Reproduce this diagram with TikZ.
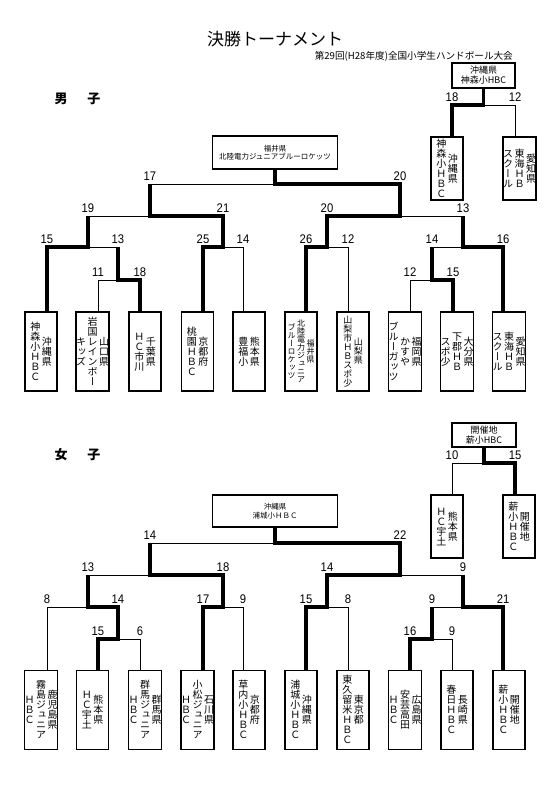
\documentclass[tikz,border=0pt]{standalone}
\usepackage{fontspec}
\setmainfont{Noto Sans CJK JP}
\newfontfamily\vfont{Noto Sans CJK JP}[RawFeature=+vert]
\newfontfamily\numfont{Liberation Sans}[FakeStretch=0.9]
\def\vcloop#1{\ifx#1\relax\else\hbox to 1em{\hss\raisebox{0pt}[0.88em][0.12em]{#1}\hss}\expandafter\vcloop\fi}
\newcommand\vcol[1]{$\vcenter{\offinterlineskip\vcloop#1\relax}$}
\newcommand\cg{\hspace{1.5bp}}
\begin{document}
\begin{tikzpicture}[x=1bp,y=-1bp,
  tbox/.style={draw,line width=1.3bp,minimum width=32bp,minimum height=79bp,inner sep=0pt,
    font={\vfont\fontsize{10bp}{10bp}\selectfont}},
  sbox/.style={tbox,minimum height=63bp},
  hbox/.style={draw,line width=1.3bp,inner sep=0pt,align=center},
  topfont/.style={font={\fontsize{9bp}{10bp}\selectfont}},
  chfont/.style={font={\fontsize{7.5bp}{8.5bp}\selectfont}},
  thn/.style={line width=0.9bp},
  thk/.style={line width=3.6bp,line join=miter},
  num/.style={anchor=south,inner sep=0pt,font={\numfont\fontsize{12.5bp}{12.5bp}\selectfont}}]
\useasboundingbox (0,0) rectangle (560,792);
\fill[white] (0,0) rectangle (560,792);

% titles
\node (title) at (275,39) {\fontsize{17bp}{17bp}\selectfont 決勝トーナメント};
\node[anchor=east,inner sep=0pt] (sub) at (513,56) {\fontsize{9.6bp}{9.6bp}\selectfont 第29回(H28年度)全国小学生ハンドボール大会};
\node (boys) at (77.5,99) {\fontsize{13bp}{13bp}\selectfont\bfseries 男\hspace{20bp}子};
\node (girls) at (77.5,455) {\fontsize{13bp}{13bp}\selectfont\bfseries 女\hspace{20bp}子};

% ================= BOYS =================
\node[hbox,topfont,minimum width=63bp,minimum height=25bp] (bt) at (483.5,75.5) {沖縄県\\神森小HBC};
\node[sbox] (bt3Lb) at (447,168.5) {\vcol{神森小ＨＢＣ}\cg\vcol{沖縄県}};
\node[sbox] (bt3Rb) at (519.5,168.5) {\vcol{スクール}\cg\vcol{東海ＨＢ}\cg\vcol{愛知県}};

\node[hbox,chfont,minimum width=125bp,minimum height=33bp] (bch) at (275,152.5) {福井県\\北陸電力ジュニアブルーロケッツ};

\node[tbox] (b1) at (41,351.5) {\vcol{神森小ＨＢＣ}\cg\vcol{沖縄県}};
\node[tbox] (b2) at (92.5,351.5) {\vcol{キッズ}\cg\vcol{岩国レインボー}\cg\vcol{山口県}};
\node[tbox] (b3) at (145,351.5) {\vcol{ＨＣ市川}\cg\vcol{千葉県}};
\node[tbox] (b4) at (197.5,351.5) {\vcol{桃園ＨＢＣ}\cg\vcol{京都府}};
\node[tbox] (b5) at (249,351.5) {\vcol{豊福小}\cg\vcol{熊本県}};
\node[tbox,font={\vfont\fontsize{8bp}{8bp}\selectfont}] (b6) at (301,351.5) {\vcol{ブルーロケッツ}\cg\vcol{北陸電力ジュニア}\cg\vcol{福井県}};
\node[tbox,font={\vfont\fontsize{9bp}{9bp}\selectfont}] (b7) at (353,351.5) {\vcol{山梨市ＨＢスポ少}\cg\vcol{山梨県}};
\node[tbox] (b8) at (405,351.5) {\vcol{ブルーガッツ}\cg\vcol{かすや}\cg\vcol{福岡県}};
\node[tbox] (b9) at (457,351.5) {\vcol{スポ少}\cg\vcol{下郡ＨＢ}\cg\vcol{大分県}};
\node[tbox] (b10) at (509,351.5) {\vcol{スクール}\cg\vcol{東海ＨＢ}\cg\vcol{愛知県}};

\coordinate (b1t) at (47,312);  \coordinate (b1c) at (47,247);
\coordinate (b2t) at (98,312);  \coordinate (b2c) at (98,280);
\coordinate (b3t) at (140,312); \coordinate (b3c) at (140,280);
\coordinate (b4t) at (203,312); \coordinate (b4c) at (203,247);
\coordinate (b5t) at (243,312); \coordinate (b5c) at (243,247);
\coordinate (b6t) at (306,312); \coordinate (b6c) at (306,247);
\coordinate (b7t) at (348,312); \coordinate (b7c) at (348,247);
\coordinate (b8t) at (410,312); \coordinate (b8c) at (410,280);
\coordinate (b9t) at (453,312); \coordinate (b9c) at (453,280);
\coordinate (b10t) at (503,312); \coordinate (b10c) at (503,247);
\coordinate (br1) at (118,280); \coordinate (br1c) at (118,247);
\coordinate (br2) at (432,280); \coordinate (br2c) at (432,247);
\coordinate (bq1) at (88,247);  \coordinate (bq1c) at (88,216);
\coordinate (bq2) at (223,247); \coordinate (bq2c) at (223,216);
\coordinate (bq3) at (327,247); \coordinate (bq3c) at (327,216);
\coordinate (bq4) at (463,247); \coordinate (bq4c) at (463,216);
\coordinate (bs1) at (150,216); \coordinate (bs1c) at (150,184);
\coordinate (bs2) at (400,216); \coordinate (bs2c) at (400,184);
\coordinate (bf) at (275,184);
\coordinate (bt3j) at (483.5,105);
\coordinate (bt3L) at (452,137); \coordinate (bt3Lc) at (452,105);
\coordinate (bt3R) at (515,137); \coordinate (bt3Rc) at (515,105);

% thin
\draw[thn] (b2t)--(b2c)--(br1);
\draw[thn] (br1c)--(bq1);
\draw[thn] (bq1c)--(bs1);
\draw[thn] (bs1c)--(bf);
\draw[thn] (b5t)--(b5c)--(bq2);
\draw[thn] (b7t)--(b7c)--(bq3);
\draw[thn] (b8t)--(b8c)--(br2);
\draw[thn] (br2c)--(bq4);
\draw[thn] (bq4c)--(bs2);
\draw[thn] (bt3R)--(bt3Rc)--(bt3j);
% thick
\draw[thk] (b3t)--(b3c)--(br1)--(br1c);
\draw[thk] (b1t)--(b1c)--(bq1)--(bq1c);
\draw[thk] (b4t)--(b4c)--(bq2)--(bq2c)--(bs1)--(bs1c);
\draw[thk] (b6t)--(b6c)--(bq3)--(bq3c)--(bs2)--(bs2c)--(bf)--(bch.south);
\draw[thk] (b9t)--(b9c)--(br2)--(br2c);
\draw[thk] (b10t)--(b10c)--(bq4)--(bq4c);
\draw[thk] (bt3L)--(bt3Lc)--(bt3j)--(bt.south);

% scores
\node[num] (sb1) at ([yshift=3bp]b1c) {15};
\node[num] (sb2) at ([yshift=3bp]br1c) {13};
\node[num] (sb3) at ([yshift=3bp]b4c) {25};
\node[num] (sb4) at ([yshift=3bp]b5c) {14};
\node[num] (sb5) at ([yshift=3bp]b6c) {26};
\node[num] (sb6) at ([yshift=3bp]b7c) {12};
\node[num] (sb7) at ([yshift=3bp]br2c) {14};
\node[num] (sb8) at ([yshift=3bp]b10c) {16};
\node[num] (sb9) at ([yshift=3bp]b2c) {11};
\node[num] (sb10) at ([yshift=3bp]b3c) {18};
\node[num] (sb11) at ([yshift=3bp]b8c) {12};
\node[num] (sb12) at ([yshift=3bp]b9c) {15};
\node[num] (sb13) at ([yshift=3bp]bq1c) {19};
\node[num] (sb14) at ([yshift=3bp]bq2c) {21};
\node[num] (sb15) at ([yshift=3bp]bq3c) {20};
\node[num] (sb16) at ([yshift=3bp]bq4c) {13};
\node[num] (sb17) at ([yshift=3bp]bs1c) {17};
\node[num] (sb18) at ([yshift=3bp]bs2c) {20};
\node[num] (sb19) at ([yshift=3bp]bt3Lc) {18};
\node[num] (sb20) at ([yshift=3bp]bt3Rc) {12};

% ================= GIRLS =================
\node[hbox,topfont,minimum width=64bp,minimum height=24bp] (wt) at (484,435) {開催地\\薪小HBC};
\node[sbox] (wt3Lb) at (447,526.5) {\vcol{ＨＣ宇土}\cg\vcol{熊本県}};
\node[sbox] (wt3Rb) at (519,526.5) {\vcol{薪小ＨＢＣ}\cg\vcol{開催地}};

\node[hbox,chfont,minimum width=125bp,minimum height=32bp] (wch) at (275,511) {沖縄県\\浦城小ＨＢＣ};

\node[tbox] (w1) at (41,710) {\vcol{ＨＢＣ}\cg\vcol{霧島ジュニア}\cg\vcol{鹿児島県}};
\node[tbox] (w2) at (92.5,710) {\vcol{ＨＣ宇土}\cg\vcol{熊本県}};
\node[tbox] (w3) at (145,710) {\vcol{ＨＢＣ}\cg\vcol{群馬ジュニア}\cg\vcol{群馬県}};
\node[tbox] (w4) at (197.5,710) {\vcol{ＨＢＣ}\cg\vcol{小松ジュニア}\cg\vcol{石川県}};
\node[tbox] (w5) at (249,710) {\vcol{草内小ＨＢＣ}\cg\vcol{京都府}};
\node[tbox] (w6) at (301,710) {\vcol{浦城小ＨＢＣ}\cg\vcol{沖縄県}};
\node[tbox] (w7) at (353,710) {\vcol{東久留米ＨＢＣ}\cg\vcol{東京都}};
\node[tbox] (w8) at (405,710) {\vcol{ＨＢＣ}\cg\vcol{安芸高田}\cg\vcol{広島県}};
\node[tbox] (w9) at (457,710) {\vcol{春日ＨＢＣ}\cg\vcol{長崎県}};
\node[tbox] (w10) at (509,710) {\vcol{薪小ＨＢＣ}\cg\vcol{開催地}};

\coordinate (w1t) at (47,670.5);  \coordinate (w1c) at (47,607);
\coordinate (w2t) at (98,670.5);  \coordinate (w2c) at (98,639);
\coordinate (w3t) at (140,670.5); \coordinate (w3c) at (140,639);
\coordinate (w4t) at (203,670.5); \coordinate (w4c) at (203,607);
\coordinate (w5t) at (243,670.5); \coordinate (w5c) at (243,607);
\coordinate (w6t) at (306,670.5); \coordinate (w6c) at (306,607);
\coordinate (w7t) at (348,670.5); \coordinate (w7c) at (348,607);
\coordinate (w8t) at (410,670.5); \coordinate (w8c) at (410,639);
\coordinate (w9t) at (452,670.5); \coordinate (w9c) at (452,639);
\coordinate (w10t) at (503,670.5); \coordinate (w10c) at (503,607);
\coordinate (wr1) at (118,639); \coordinate (wr1c) at (118,607);
\coordinate (wr2) at (432,639); \coordinate (wr2c) at (432,607);
\coordinate (wq1) at (88,607);  \coordinate (wq1c) at (88,575);
\coordinate (wq2) at (223,607); \coordinate (wq2c) at (223,575);
\coordinate (wq3) at (327,607); \coordinate (wq3c) at (327,575);
\coordinate (wq4) at (463,607); \coordinate (wq4c) at (463,575);
\coordinate (ws1) at (150,575); \coordinate (ws1c) at (150,543);
\coordinate (ws2) at (400,575); \coordinate (ws2c) at (400,543);
\coordinate (wf) at (275,543);
\coordinate (wt3j) at (484,463);
\coordinate (wt3L) at (452,495); \coordinate (wt3Lc) at (452,463);
\coordinate (wt3R) at (515,495); \coordinate (wt3Rc) at (515,463);

% thin
\draw[thn] (w1t)--(w1c)--(wq1);
\draw[thn] (wq1c)--(ws1);
\draw[thn] (w3t)--(w3c)--(wr1);
\draw[thn] (ws1c)--(wf);
\draw[thn] (w5t)--(w5c)--(wq2);
\draw[thn] (w7t)--(w7c)--(wq3);
\draw[thn] (wr2c)--(wq4);
\draw[thn] (w9t)--(w9c)--(wr2);
\draw[thn] (wq4c)--(ws2);
\draw[thn] (wt3L)--(wt3Lc)--(wt3j);
% thick
\draw[thk] (w2t)--(w2c)--(wr1)--(wr1c)--(wq1)--(wq1c);
\draw[thk] (w4t)--(w4c)--(wq2)--(wq2c)--(ws1)--(ws1c);
\draw[thk] (w6t)--(w6c)--(wq3)--(wq3c)--(ws2)--(ws2c)--(wf)--(wch.south);
\draw[thk] (w8t)--(w8c)--(wr2)--(wr2c);
\draw[thk] (w10t)--(w10c)--(wq4)--(wq4c);
\draw[thk] (wt3R)--(wt3Rc)--(wt3j)--(wt.south);

% scores
\node[num] (sw1) at ([yshift=3bp]w1c) {8};
\node[num] (sw2) at ([yshift=3bp]wr1c) {14};
\node[num] (sw3) at ([yshift=3bp]w4c) {17};
\node[num] (sw4) at ([yshift=3bp]w5c) {9};
\node[num] (sw5) at ([yshift=3bp]w6c) {15};
\node[num] (sw6) at ([yshift=3bp]w7c) {8};
\node[num] (sw7) at ([yshift=3bp]wr2c) {9};
\node[num] (sw8) at ([yshift=3bp]w10c) {21};
\node[num] (sw9) at ([yshift=3bp]w2c) {15};
\node[num] (sw10) at ([yshift=3bp]w3c) {6};
\node[num] (sw11) at ([yshift=3bp]w8c) {16};
\node[num] (sw12) at ([yshift=3bp]w9c) {9};
\node[num] (sw13) at ([yshift=3bp]wq1c) {13};
\node[num] (sw14) at ([yshift=3bp]wq2c) {18};
\node[num] (sw15) at ([yshift=3bp]wq3c) {14};
\node[num] (sw16) at ([yshift=3bp]wq4c) {9};
\node[num] (sw17) at ([yshift=3bp]ws1c) {14};
\node[num] (sw18) at ([yshift=3bp]ws2c) {22};
\node[num] (sw19) at ([yshift=3bp]wt3Lc) {10};
\node[num] (sw20) at ([yshift=3bp]wt3Rc) {15};
\end{tikzpicture}
\end{document}
